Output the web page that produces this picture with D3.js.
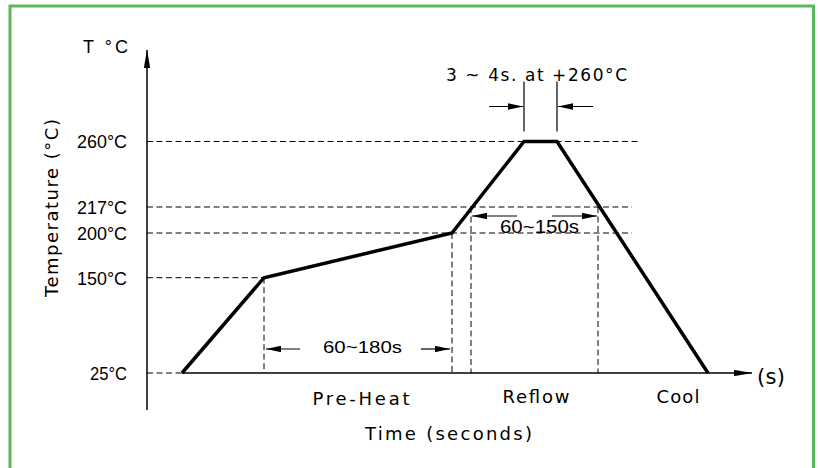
<!DOCTYPE html>
<html>
<head>
<meta charset="utf-8">
<script src="https://cdn.jsdelivr.net/npm/d3@7"></script>
<style>
  html, body { margin: 0; padding: 0; background: #fff; }
  svg { display: block; }
  text { font-family: "Liberation Sans", Arial, sans-serif; fill: #000; }
  text.cad { font-family: "DejaVu Sans", sans-serif; }
</style>
</head>
<body>
<svg id="chart" width="818" height="468"></svg>
<script>
// ---------------- DATA ----------------
// temperature levels shown on the axis (°C)
const tempTicks = [25, 150, 200, 217, 260];
const tickLabels = ["25°C", "150°C", "200°C", "217°C", "260°C"];
// schematic reflow profile (time in s, temperature in °C)
const profileTime = [35, 117, 305, 377, 410, 561];
const profileTemp = [25, 150, 200, 260, 260, 25];
// phase boundaries (s)
const preheatStart = 117, preheatEnd = 305;
const reflowStart = 324, reflowEnd = 451;
const peakStart = 377, peakEnd = 410;
// horizontal guide lines: [temperature, end time]
const guideTemps = [25, 150, 200, 217, 260];
const guideEnds = [35, 117, 485, 485, 493];
// vertical guide lines: [time, top temperature]
const vGuideTimes = [preheatStart, preheatEnd, reflowStart, reflowEnd];
const vGuideTemps = [150, 200, 217, 217];
// phase labels
const phaseNames = ["Pre-Heat", "Reflow", "Cool"];
const phaseCenters = [214, 389, 531];

// ---------------- LAYOUT ----------------
const svg = d3.select("#chart");
const x0 = 147, xEnd = 752;
const yAxisTop = 50, yAxisBottom = 410;

const x = d3.scaleLinear().domain([0, 605]).range([x0, xEnd]);
// schematic (piece-wise) temperature scale
const y = d3.scaleLinear().domain(tempTicks).range([373, 277.7, 233, 207, 141.5]);

// green frame
svg.append("rect")
  .attr("x", 10).attr("y", 6).attr("width", 803.5).attr("height", 520)
  .attr("fill", "none").attr("stroke", "#5cb85c").attr("stroke-width", 3);

// arrow markers
const defs = svg.append("defs");
function marker(id, len, half) {
  defs.append("marker")
    .attr("id", id).attr("viewBox", `0 ${-half} ${len} ${2 * half}`)
    .attr("refX", len).attr("refY", 0)
    .attr("markerWidth", len).attr("markerHeight", 2 * half)
    .attr("markerUnits", "userSpaceOnUse").attr("orient", "auto")
    .append("path").attr("d", `M0,${-half}L${len},0L0,${half}Z`).attr("fill", "#000");
}
marker("axisArrow", 18, 3.2);
marker("dimArrow", 15, 3.2);

// dashed guide lines (horizontal)
const dash = "6,3.5";
svg.append("g").selectAll("line").data(guideTemps).join("line")
  .attr("x1", x(0)).attr("x2", (d, i) => x(guideEnds[i]))
  .attr("y1", d => y(d)).attr("y2", d => y(d))
  .attr("stroke", "#000").attr("stroke-width", 1).attr("stroke-dasharray", dash);

// dashed guide lines (vertical)
svg.append("g").selectAll("line").data(vGuideTimes).join("line")
  .attr("x1", d => x(d)).attr("x2", d => x(d))
  .attr("y1", (d, i) => y(vGuideTemps[i])).attr("y2", y(25))
  .attr("stroke", "#000").attr("stroke-width", 1).attr("stroke-dasharray", dash);

// axes
svg.append("line")
  .attr("x1", x0).attr("x2", x0).attr("y1", yAxisBottom).attr("y2", yAxisTop)
  .attr("stroke", "#000").attr("stroke-width", 1.5).attr("marker-end", "url(#axisArrow)");
svg.append("line")
  .attr("x1", x(profileTime[0])).attr("x2", xEnd).attr("y1", y(25)).attr("y2", y(25))
  .attr("stroke", "#000").attr("stroke-width", 1.5).attr("marker-end", "url(#axisArrow)");

// y tick labels via d3 axis
const yAxis = d3.axisLeft(y).tickValues(tempTicks)
  .tickFormat((d, i) => tickLabels[i]).tickSize(0).tickPadding(20);
const gy = svg.append("g").attr("transform", `translate(${x0},0)`).call(yAxis);
gy.select(".domain").remove();
gy.selectAll("text")
  .attr("font-family", "Liberation Sans, Arial, sans-serif")
  .attr("font-size", 18).attr("dy", "0.36em")
  .attr("textLength", (d, i) => i === 0 ? 37 : 50).attr("lengthAdjust", "spacingAndGlyphs");

// profile line
const pts = profileTime.map((t, i) => [t, profileTemp[i]]);
svg.append("path")
  .datum(pts)
  .attr("d", d3.line().x(d => x(d[0])).y(d => y(d[1])))
  .attr("fill", "none").attr("stroke", "#000").attr("stroke-width", 3.5)
  .attr("stroke-linejoin", "miter");

// dimension: 60~180s
const dimY1 = y(25) - 24;
function dimArrow(xa, xb, yy) {
  svg.append("line").attr("x1", xa).attr("x2", xb).attr("y1", yy).attr("y2", yy)
    .attr("stroke", "#000").attr("stroke-width", 1.2).attr("marker-end", "url(#dimArrow)");
}
dimArrow(x(preheatStart) + 36, x(preheatStart) + 2, dimY1);
dimArrow(x(preheatEnd) - 31, x(preheatEnd) - 2, dimY1);
svg.append("text").attr("x", 323).attr("y", 353)
  .attr("font-size", 17).attr("textLength", 79).attr("lengthAdjust", "spacingAndGlyphs")
  .text("60~180s");

// dimension: 60~150s
const dimY2 = y(217) + 9;
dimArrow(x(reflowStart) + 46, x(reflowStart) + 1, dimY2);
dimArrow(x(reflowEnd) - 46, x(reflowEnd) - 1, dimY2);
svg.append("text").attr("x", 500).attr("y", 233)
  .attr("font-size", 19).attr("textLength", 79).attr("lengthAdjust", "spacingAndGlyphs")
  .text("60~150s");

// dimension: peak time
const extTop = y(260) - 60, extBot = y(260) - 10;
[peakStart, peakEnd].forEach(t => {
  svg.append("line").attr("x1", x(t)).attr("x2", x(t)).attr("y1", extTop).attr("y2", extBot)
    .attr("stroke", "#000").attr("stroke-width", 1.2);
});
const dimY3 = y(260) - 35;
dimArrow(x(peakStart) - 35, x(peakStart) - 1, dimY3);
dimArrow(x(peakEnd) + 36, x(peakEnd) + 1, dimY3);
svg.append("text").attr("class", "cad").attr("x", 446).attr("y", 81)
  .attr("font-size", 17).attr("textLength", 181).attr("lengthAdjust", "spacing")
  .text("3 ~ 4s. at +260°C");

// axis titles
svg.append("text").attr("x", 83).attr("y", 53)
  .attr("font-size", 18).attr("textLength", 45).attr("lengthAdjust", "spacing")
  .text("T °C");
svg.append("text").attr("class", "cad").attr("transform", "translate(58,297) rotate(-90)")
  .attr("font-size", 18).attr("textLength", 178).attr("lengthAdjust", "spacing")
  .text("Temperature (°C)");
svg.append("text").attr("class", "cad").attr("x", 757).attr("y", 384)
  .attr("font-size", 21).attr("textLength", 28).attr("lengthAdjust", "spacing")
  .text("(s)");
svg.append("text").attr("class", "cad").attr("x", 365).attr("y", 440)
  .attr("font-size", 18).attr("textLength", 167).attr("lengthAdjust", "spacing")
  .text("Time (seconds)");

// phase labels
const phaseWidths = [97, 67, 43];
svg.append("g").selectAll("text").data(phaseNames).join("text")
  .attr("class", "cad")
  .attr("x", (d, i) => x(phaseCenters[i]) - phaseWidths[i] / 2)
  .attr("y", (d, i) => i === 0 ? 405 : 403)
  .attr("font-size", 18)
  .attr("textLength", (d, i) => phaseWidths[i]).attr("lengthAdjust", "spacing")
  .text(d => d);
</script>
</body>
</html>
